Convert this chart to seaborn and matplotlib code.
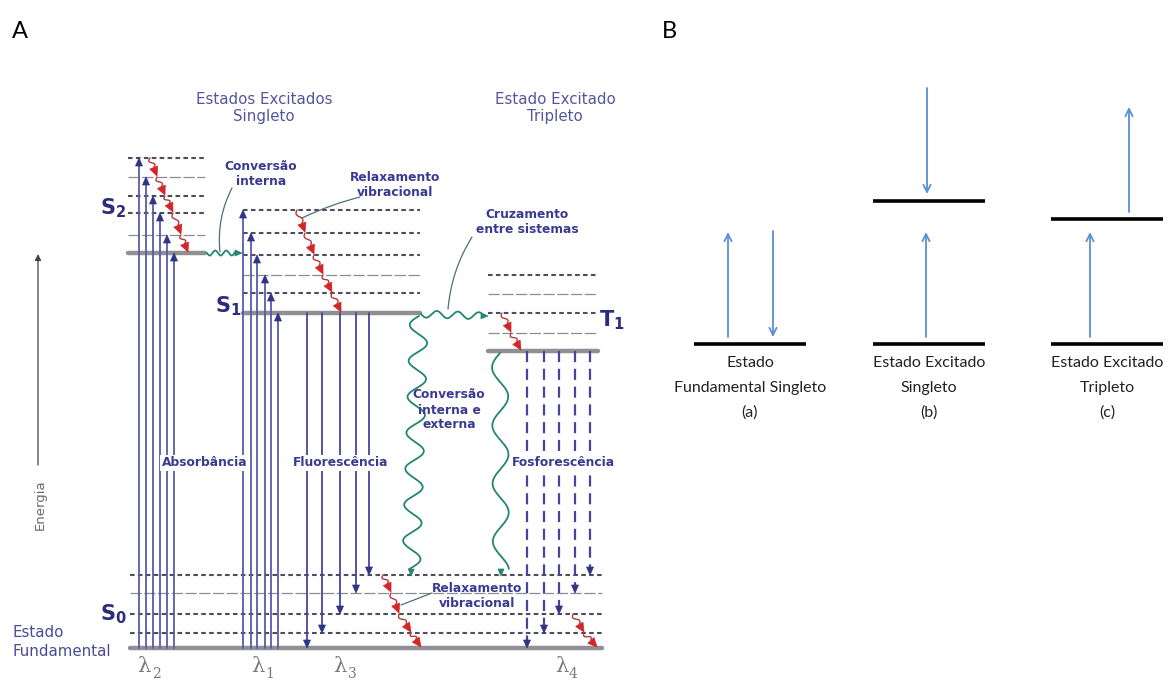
import numpy as np
import pandas as pd
import matplotlib
matplotlib.use("Agg")
import matplotlib.pyplot as plt
import seaborn as sns
from matplotlib.patches import Polygon

sns.set_theme(style="white")
plt.rcParams['font.family'] = ['DejaVu Sans']
plt.rcParams['mathtext.fontset'] = 'dejavusans'

# ---------------- Panel A: Jablonski diagram (page coordinates, y down) -----
S2_levels = [158, 177, 196, 213, 235, 253]
S2_kinds = ['dot', 'thin', 'dot', 'dot', 'thin', 'thick']
S1_levels = [210, 233, 255, 275, 293, 313]
S1_kinds = ['dot', 'dot', 'dot', 'thin', 'dot', 'thick']
T1_levels = [275, 294, 313, 333, 351]
T1_kinds = ['dot', 'thin', 'dot', 'thin', 'thick']
S0_levels = [575, 593, 614, 633, 648]
S0_kinds = ['dot', 'thin', 'dot', 'dot', 'thick']
S2_span = (128, 205)
S1_span = (243, 420)
T1_span = (488, 598)
S0_span = (130, 602)

# absorption (upward), fluorescence and phosphorescence (downward)
abs_S2_x = [139, 146, 153, 160, 167, 174]
abs_S1_x = [243, 251, 257, 265, 271, 278]
fluo_x = [307, 322, 340, 356, 369]
fluo_end = [648, 633, 614, 593, 575]
phos_x = [527, 544, 559, 575, 590]
phos_end = [648, 633, 614, 593, 575]

# vibrational relaxation staircases: x at each level crossed
relax_S2_x = [150, 157, 165, 173, 181, 188]
relax_S1_x = [297, 305, 314, 323, 332, 341]
relax_T1_x = [502, 511, 521]
relax_S0a_x = [383, 391, 399, 411, 421]
relax_S0b_x = [573, 584, 597]
relax_S0b_y = [614, 633, 648]

# wavelength labels under the transitions
lambda_subs = ['2', '1', '3', '4']
lambda_x = [151, 264, 347, 568]

# ---------------- Panel B: spin states ----------------------------------------
B_labels = ['Estado\nFundamental Singleto\n(a)',
            'Estado Excitado\nSingleto\n(b)',
            'Estado Excitado\nTripleto\n(c)']
B_centers = [750, 929, 1107]
B_ground_y = 344
B_upper_y = [None, 201, 219]

INDIGO = '#45459c'
HEAD = '#2e3584'
GREEN = '#23866e'
RED = '#d3262b'
LABEL = '#3a3a92'

fig = plt.figure(figsize=(11.68, 6.84), dpi=100)
ax = fig.add_axes([0, 0, 1, 1])

# ---- energy levels drawn with seaborn ----
rows = []
seg = 0
for levels, kinds, span in [(S2_levels, S2_kinds, S2_span),
                            (S1_levels, S1_kinds, S1_span),
                            (T1_levels, T1_kinds, T1_span),
                            (S0_levels, S0_kinds, S0_span)]:
    for y, k in zip(levels, kinds):
        rows.append(dict(seg=seg, x=span[0], y=y, kind=k))
        rows.append(dict(seg=seg, x=span[1], y=y, kind=k))
        seg += 1
lv = pd.DataFrame(rows)
sns.lineplot(data=lv, x='x', y='y', units='seg', estimator=None, sort=False,
             hue='kind', palette={'dot': '#4d4d5e', 'thin': '#8c8c96', 'thick': '#8f8f94'},
             size='kind', sizes={'dot': 1.5, 'thin': 0.9, 'thick': 3.2},
             style='kind', dashes={'dot': (2.2, 1.6), 'thin': (9, 2), 'thick': ''},
             legend=False, ax=ax)


def tri(tip, direction, length, width, color, z=4):
    d = np.asarray(direction, float)
    d = d / np.hypot(*d)
    n = np.array([-d[1], d[0]])
    tip = np.asarray(tip, float)
    base = tip - d * length
    pts = [tip, base + n * width / 2, base - n * width / 2]
    ax.add_patch(Polygon(pts, closed=True, fc=color, ec=color, lw=0.5, zorder=z))


def vline_arrow(x, y0, y1, color=INDIGO, head=HEAD, ls='-', lw=1.3):
    sgn = 1 if y1 > y0 else -1
    ax.plot([x, x], [y0, y1 - sgn * 6], color=color, lw=lw, ls=ls, zorder=3)
    tri((x, y1), (0, sgn), 8, 7, head)


def wavy(p0, p1, amp, period, color=GREEN, lw=1.3, head_len=7, head_w=6):
    p0 = np.asarray(p0, float)
    p1 = np.asarray(p1, float)
    d = p1 - p0
    L = np.hypot(*d)
    u = d / L
    n = np.array([-u[1], u[0]])
    s = np.linspace(0, L - head_len, 400)
    off = amp * np.sin(2 * np.pi * s / period)
    pts = p0 + np.outer(s, u) + np.outer(off, n)
    ax.plot(pts[:, 0], pts[:, 1], color=color, lw=lw, zorder=3)
    tri(p1, u, head_len, head_w, color)


def relax(xs, ys, head_len=9, head_w=8.5):
    for i in range(len(xs) - 1):
        a = np.array([xs[i], ys[i]], float)
        b = np.array([xs[i + 1], ys[i + 1] - 1], float)
        d = b - a
        L = np.hypot(*d)
        u = d / L
        n = np.array([-u[1], u[0]])
        seg_len = max(L - head_len, 3)
        s = np.linspace(0, seg_len, 40)
        off = 2.2 * np.sin(2 * np.pi * s / seg_len)
        pts = a + np.outer(s, u) + np.outer(off, n)
        ax.plot(pts[:, 0], pts[:, 1], color='#b03a3a', lw=1.0, zorder=4)
        tri(b, u, head_len, head_w, RED, z=5)


# absorption
for x, y in zip(abs_S2_x, S2_levels):
    vline_arrow(x, S0_levels[-1], y, color='#5a5aa8')
for x, y in zip(abs_S1_x, S1_levels):
    vline_arrow(x, S0_levels[-1], y, color='#5a5aa8')
# fluorescence
for x, y in zip(fluo_x, fluo_end):
    vline_arrow(x, S1_levels[-1], y)
# phosphorescence
for x, y in zip(phos_x, phos_end):
    vline_arrow(x, T1_levels[-1], y, ls=(0, (5, 3)), lw=1.6)

# non-radiative processes
wavy((207, 253), (242, 253), 2.5, 11)
wavy((421, 314), (488, 316), 3.5, 21)
wavy((419, 316), (411, 576), 9, 36)
wavy((500, 353), (501, 576), 8, 58)

relax(relax_S2_x, S2_levels)
relax(relax_S1_x, S1_levels)
relax(relax_T1_x, T1_levels[2:])
relax(relax_S0a_x, S0_levels)
relax(relax_S0b_x, relax_S0b_y)

# leader lines
lead = dict(arrowstyle='-', color='#4f6f78', lw=0.9, shrinkA=0, shrinkB=0)
ax.annotate('', xy=(220, 252), xytext=(232, 188),
            arrowprops=dict(connectionstyle='arc3,rad=0.15', **lead))
ax.annotate('', xy=(302, 218), xytext=(360, 197),
            arrowprops=dict(connectionstyle='arc3,rad=0.05', **lead))
ax.annotate('', xy=(448, 309), xytext=(472, 237),
            arrowprops=dict(connectionstyle='arc3,rad=0.12', **lead))
ax.annotate('', xy=(401, 605), xytext=(432, 593),
            arrowprops=dict(connectionstyle='arc3,rad=0', **lead))

# text labels
bold = dict(color=LABEL, fontweight='bold', fontsize=8.8, ha='center', va='center',
            linespacing=1.2, zorder=6)
wbox = dict(fc='white', ec='none', pad=1.2)
ax.text(261, 174, 'Conversão\ninterna', **bold)
ax.text(395, 185, 'Relaxamento\nvibracional', **bold)
ax.text(527, 222, 'Cruzamento\nentre sistemas', **bold)
ax.text(449, 410, 'Conversão\ninterna e\nexterna', **bold)
ax.text(205, 463, 'Absorbância', bbox=wbox, **bold)
ax.text(341, 463, 'Fluorescência', bbox=wbox, **bold)
ax.text(563, 463, 'Fosforescência', bbox=wbox, **bold)
ax.text(477, 596, 'Relaxamento\nvibracional', **bold)

head_kw = dict(color='#55559e', fontsize=10.8, ha='center', va='center', linespacing=1.1)
ax.text(264, 108, 'Estados Excitados\nSingleto', **head_kw)
ax.text(555, 108, 'Estado Excitado\nTripleto', **head_kw)

state_kw = dict(color='#2c2c7e', fontsize=15, ha='center', va='center')
ax.text(113, 208, r'$\mathbf{S_2}$', **state_kw)
ax.text(228, 306, r'$\mathbf{S_1}$', **state_kw)
ax.text(612, 320, r'$\mathbf{T_1}$', **state_kw)
ax.text(113, 614, r'$\mathbf{S_0}$', **state_kw)
ax.text(13, 642, 'Estado\nFundamental', color='#4a4a98', fontsize=10.8,
        ha='left', va='center', linespacing=1.3)

# energy axis
ax.annotate('', xy=(38, 254), xytext=(38, 465),
            arrowprops=dict(arrowstyle='-|>', color='#444444', lw=0.9,
                            mutation_scale=9, shrinkA=0, shrinkB=0))
ax.text(40, 505, 'Energia', rotation=90, color='#6a6a6a', fontsize=9.5,
        ha='center', va='center')

for sub, x in zip(lambda_subs, lambda_x):
    ax.text(x, 667, 'λ', color='#7a7a7a', fontsize=15, ha='right', va='center',
            family='DejaVu Serif')
    ax.text(x + 1, 674, sub, color='#7a7a7a', fontsize=10, ha='left', va='center',
            family='DejaVu Serif')

# ---------------- Panel B ----------------
BLUE = '#5b8fd8'
half = 56
for i, (cx, lab) in enumerate(zip(B_centers, B_labels)):
    ax.plot([cx - half, cx + half], [B_ground_y, B_ground_y], color='black', lw=2.6,
            solid_capstyle='butt')
    if B_upper_y[i] is not None:
        ax.plot([cx - half, cx + half], [B_upper_y[i], B_upper_y[i]], color='black',
                lw=2.6, solid_capstyle='butt')
    ax.text(cx, 388, lab, ha='center', va='center', fontsize=11.5, family='Lato',
            color='#222222', linespacing=1.95)

barrow = dict(arrowstyle='->', color=BLUE, lw=1.3, mutation_scale=13,
              shrinkA=0, shrinkB=0)
# (a) paired spins in the ground state
ax.annotate('', xy=(728, 232), xytext=(728, 337), arrowprops=barrow)
ax.annotate('', xy=(773, 337), xytext=(773, 231), arrowprops=barrow)
# (b) singlet excited state: antiparallel spins
ax.annotate('', xy=(926, 232), xytext=(926, 337), arrowprops=barrow)
ax.annotate('', xy=(927, 194), xytext=(927, 88), arrowprops=barrow)
# (c) triplet excited state: parallel spins
ax.annotate('', xy=(1090, 232), xytext=(1090, 337), arrowprops=barrow)
ax.annotate('', xy=(1129, 107), xytext=(1129, 212), arrowprops=barrow)

ax.text(12, 31, 'A', fontsize=17, family='Lato', ha='left', va='center', color='black')
ax.text(662, 31, 'B', fontsize=17, family='Lato', ha='left', va='center', color='black')

ax.set_xlim(0, 1168)
ax.set_ylim(684, 0)
ax.set_axis_off()
fig.savefig('out.png', dpi=100, facecolor='white')
